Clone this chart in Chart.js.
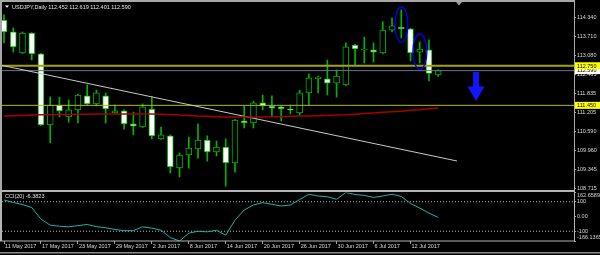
<!DOCTYPE html>
<html>
<head>
<meta charset="utf-8">
<script src="https://cdn.jsdelivr.net/npm/chart.js@4.4.0/dist/chart.umd.min.js"></script>
<style>
    html, body { margin: 0; padding: 0; background: #000; overflow: hidden; }
    #wrap { position: relative; width: 600px; height: 255px; background: #000; }
    #priceChart { position: absolute; left: 0; top: 0; }
    #cciChart { position: absolute; left: 0; top: 190px; }
</style>
</head>
<body>
<div id="wrap">
    <canvas id="priceChart" width="600" height="191"></canvas>
    <canvas id="cciChart" width="600" height="65"></canvas>
</div>
<script>
const symbol = 'USDJPY';
const period = 'Daily';

// daily candles, 11 May 2017 .. 17 Jul 2017
const opens  = [114.25, 113.86, 113.17, 113.82, 113.14, 110.81, 111.46, 111.07, 111.30, 111.76, 111.50, 111.76, 111.20, 111.27, 110.84, 110.74,
                111.33, 110.35, 110.45, 109.40, 109.82, 110.02, 110.31, 109.92, 110.08, 109.56, 110.94, 110.87, 111.53, 111.43, 111.40, 111.33,
                111.20, 111.86, 112.33, 112.32, 112.18, 112.12, 113.43, 113.27, 113.27, 113.17, 113.92, 114.02, 113.96, 113.20, 113.27, 112.452];
const highs  = [114.42, 113.99, 113.86, 113.84, 113.16, 111.73, 111.72, 111.63, 111.82, 112.12, 111.95, 111.86, 111.46, 111.30, 111.23, 111.50,
                111.73, 110.74, 110.48, 109.89, 110.41, 110.84, 110.45, 110.28, 110.35, 110.98, 111.43, 111.59, 111.79, 111.76, 111.43, 111.46,
                111.95, 112.48, 112.41, 112.94, 112.61, 113.50, 113.45, 113.69, 113.50, 114.19, 114.32, 114.58, 113.98, 113.53, 113.60, 112.619];
const lows   = [113.50, 113.20, 113.15, 112.94, 110.78, 110.22, 111.07, 110.90, 110.87, 111.48, 111.43, 110.87, 111.19, 110.67, 110.48, 110.72,
                110.35, 110.33, 109.23, 109.10, 109.39, 109.72, 109.62, 109.79, 108.80, 109.26, 110.71, 110.71, 111.30, 111.07, 110.94, 111.17,
                111.13, 111.46, 111.86, 111.79, 111.72, 112.10, 112.78, 112.84, 112.87, 113.14, 113.86, 113.66, 112.91, 112.84, 112.25, 112.401];
const closes = [113.86, 113.37, 113.82, 113.14, 110.81, 111.46, 111.27, 111.30, 111.79, 111.50, 111.86, 111.33, 111.27, 110.84, 110.77, 111.40,
                110.45, 110.48, 109.43, 109.82, 110.05, 110.31, 109.92, 110.08, 109.56, 110.97, 110.87, 111.53, 111.43, 111.36, 111.33, 111.30,
                111.86, 112.35, 112.37, 112.18, 112.41, 113.37, 113.30, 113.30, 113.20, 113.92, 114.06, 113.96, 113.17, 113.30, 112.50, 112.590];

// red moving average
const maValues = [111.10, 111.11, 111.12, 111.13, 111.14, 111.14, 111.15, 111.15, 111.16, 111.16, 111.17, 111.17, 111.17, 111.17, 111.17, 111.17,
                  111.17, 111.16, 111.15, 111.13, 111.12, 111.10, 111.09, 111.08, 111.07, 111.07, 111.07, 111.07, 111.07, 111.08, 111.08, 111.09,
                  111.10, 111.10, 111.11, 111.12, 111.13, 111.14, 111.16, 111.18, 111.20, 111.22, 111.24, 111.26, 111.29, 111.31, 111.34, 111.36];

// CCI(20)
const cciValues = [112, 95, 81, 61, -18, -59, -66, -70, -62, -54, -69, -76, -88, -96, -96, -70,
                   -79, -93, -143, -166.1365, -113, -100, -104, -93, -127, -25, 44, 78, 94, 83, 71, 78,
                   115, 151, 139, 134, 117, 162.6589, 149, 143, 129, 139, 151, 136, 88, 57, 23, -6.3823];
const cciLevels = [100, -100];

// drawn objects
const levelLines = [112.750, 111.450];
const trendLine = [{x: -0.43, y: 112.775}, {x: 49.03, y: 109.624}];
const ellipses = [{i: 43.02, hi: 114.678, lo: 113.530, w: 0.70}, {i: 45.02, hi: 113.792, lo: 112.643, w: 0.76}];
const arrowMark = {i: 51.1, from: 112.545, to: 111.59};
const shiftMark = 49.25;

// axes
const priceTicks = [108.715, 109.345, 109.960, 110.590, 111.205, 111.835, 112.465, 113.080, 113.710, 114.340];
const priceMin = 108.672, priceMax = 114.777;
const cciTickValues = [-166.1365, -100, 0, 100, 162.6589];
const cciTickLabels = ['-166.1365', '-100', '0.00', '100', '162.6589'];
const dateLabels = ['11 May 2017', '17 May 2017', '23 May 2017', '29 May 2017', '2 Jun 2017', '8 Jun 2017',
                    '14 Jun 2017', '20 Jun 2017', '26 Jun 2017', '30 Jun 2017', '6 Jul 2017', '12 Jul 2017'];
const dateStep = 4;
const xMin = -0.22, xMax = 61.7;

const GREEN = '#00b400';
const TEXT = '#d8d8d8';
const FONT = 'Liberation Sans';
const FS = 5.5;

Chart.defaults.font.family = FONT;
Chart.defaults.animation = false;

const last = closes.length - 1;
const bid = closes[last];

function hLine(v) {
    return [{x: xMin, y: v}, {x: xMax, y: v}];
}

function fixRightAxis(scale) {
    scale.width = 26;
    scale.paddingTop = 0;
    scale.paddingBottom = 0;
}

// top/bottom labels of the indicator window sit inside it, like the terminal does
function cciLabel(v) {
    const k = cciTickValues.indexOf(v);
    if (k === cciTickValues.length - 1) return ['', cciTickLabels[k]];
    if (k === 0) return [cciTickLabels[k], ''];
    return cciTickLabels[k];
}

const priceDecor = {
    id: 'priceDecor',
    afterDraw(chart) {
        const ctx = chart.ctx;
        const xs = chart.scales.x, ys = chart.scales.y;
        ctx.save();

        // ellipses
        ctx.strokeStyle = '#0000ff';
        ctx.lineWidth = 1.3;
        ellipses.forEach(e => {
            const cx = xs.getPixelForValue(e.i);
            const rx = xs.getPixelForValue(e.i + e.w) - cx;
            const top = ys.getPixelForValue(e.hi), bottom = ys.getPixelForValue(e.lo);
            ctx.beginPath();
            ctx.ellipse(cx, (top + bottom) / 2, rx, (bottom - top) / 2, 0, 0, Math.PI * 2);
            ctx.stroke();
        });

        // arrow
        const ax = xs.getPixelForValue(arrowMark.i);
        const ay1 = ys.getPixelForValue(arrowMark.from);
        const ay2 = ys.getPixelForValue(arrowMark.to);
        const headH = (ay2 - ay1) * 0.5;
        ctx.fillStyle = '#1414ff';
        ctx.beginPath();
        ctx.moveTo(ax - 3, ay1);
        ctx.lineTo(ax + 3, ay1);
        ctx.lineTo(ax + 3, ay2 - headH);
        ctx.lineTo(ax + 8.5, ay2 - headH);
        ctx.lineTo(ax, ay2);
        ctx.lineTo(ax - 8.5, ay2 - headH);
        ctx.lineTo(ax - 3, ay2 - headH);
        ctx.closePath();
        ctx.fill();

        // frame
        ctx.fillStyle = '#a8a8a8';
        ctx.fillRect(0, 0, 575, 2);
        ctx.fillRect(0, 0, 2, 191);
        ctx.fillRect(574, 0, 1, 191);

        // chart shift marker
        const sx = xs.getPixelForValue(shiftMark);
        ctx.fillStyle = '#9a9a9a';
        ctx.beginPath();
        ctx.moveTo(sx - 3, 2);
        ctx.lineTo(sx + 3, 2);
        ctx.lineTo(sx, 5.5);
        ctx.closePath();
        ctx.fill();

        // price labels for levels and bid
        ctx.font = FS + 'px ' + FONT;
        ctx.textBaseline = 'middle';
        const tags = [{v: bid, bg: '#ffffff'}].concat(levelLines.map(v => ({v: v, bg: '#ffff00'})));
        tags.forEach(t => {
            const y = ys.getPixelForValue(t.v);
            ctx.fillStyle = t.bg;
            ctx.fillRect(575, y - 3.5, 25, 7);
            ctx.fillStyle = '#000';
            ctx.fillText(t.v.toFixed(3), 577, y + 0.3);
        });

        // title
        ctx.fillStyle = '#ffffff';
        ctx.beginPath();
        ctx.moveTo(5, 5.5);
        ctx.lineTo(9, 5.5);
        ctx.lineTo(7, 7.8);
        ctx.closePath();
        ctx.fill();
        ctx.fillStyle = '#e6e6e6';
        const title = symbol + ',' + period + ' ' +
            [opens[last], highs[last], lows[last], closes[last]].map(v => v.toFixed(3)).join(' ');
        ctx.fillText(title, 12, 7);
        ctx.restore();
    }
};

new Chart(document.getElementById('priceChart'), {
    type: 'bar',
    data: {
        datasets: [
            {
                label: 'body',
                data: opens.map((o, i) => ({x: i, y: [o, closes[i]]})),
                backgroundColor: opens.map((o, i) => closes[i] > o ? '#000000' : '#ffffff'),
                borderColor: GREEN,
                borderWidth: 1,
                borderSkipped: false,
                barThickness: 6,
                grouped: false,
                order: 1
            },
            {
                label: 'wick',
                data: lows.map((l, i) => ({x: i, y: [l, highs[i]]})),
                backgroundColor: GREEN,
                barThickness: 1,
                grouped: false,
                order: 2
            },
            {
                type: 'line', label: 'ma',
                data: maValues.map((v, i) => ({x: i, y: v})),
                borderColor: '#a80000', borderWidth: 1.5, pointRadius: 0, order: 0
            },
            {
                type: 'line', label: 'trend',
                data: trendLine,
                borderColor: '#c8c8c8', borderWidth: 1, pointRadius: 0, order: 0
            },
            {
                type: 'line', label: 'level1',
                data: hLine(levelLines[0]),
                borderColor: '#a4a400', borderWidth: 2, pointRadius: 0, order: 0
            },
            {
                type: 'line', label: 'level2',
                data: hLine(levelLines[1]),
                borderColor: '#b8b800', borderWidth: 1, pointRadius: 0, order: 0
            },
            {
                type: 'line', label: 'bid',
                data: hLine(bid),
                borderColor: '#6c7484', borderWidth: 1, pointRadius: 0, order: 0
            }
        ]
    },
    options: {
        responsive: false,
        maintainAspectRatio: false,
        layout: { padding: { left: 2, top: 4, right: 0, bottom: 1 } },
        plugins: { legend: { display: false }, tooltip: { enabled: false } },
        scales: {
            x: {
                type: 'linear', min: xMin, max: xMax, offset: false,
                display: false,
                grid: { offset: false }
            },
            y: {
                position: 'right',
                min: priceMin, max: priceMax,
                afterBuildTicks: s => { s.ticks = priceTicks.map(v => ({value: v})); },
                afterFit: fixRightAxis,
                border: { display: false },
                grid: { drawOnChartArea: false, tickLength: 2, color: '#a0a0a0' },
                ticks: {
                    autoSkip: false, padding: 1, color: TEXT,
                    font: { size: FS },
                    callback: v => v.toFixed(3)
                }
            }
        }
    },
    plugins: [priceDecor]
});

const cciDecor = {
    id: 'cciDecor',
    afterDraw(chart) {
        const ctx = chart.ctx;
        ctx.save();
        ctx.fillStyle = '#b4b4b4';
        ctx.fillRect(0, 0, 575, 2);
        ctx.fillRect(0, 50.5, 575, 1);
        ctx.fillRect(0, 0, 2, 51);
        ctx.fillRect(574, 0, 1, 51);
        ctx.fillStyle = '#8c8c8c';
        ctx.fillRect(0, 62, 600, 1.5);
        ctx.font = FS + 'px ' + FONT;
        ctx.textBaseline = 'middle';
        ctx.fillStyle = '#e0e0e0';
        ctx.fillText('CCI(20) ' + cciValues[cciValues.length - 1].toFixed(4), 5, 6.5);
        ctx.restore();
    }
};

new Chart(document.getElementById('cciChart'), {
    type: 'line',
    data: {
        datasets: [
            {
                label: 'CCI(20)',
                data: cciValues.map((v, i) => ({x: i, y: v})),
                borderColor: '#20b2aa', borderWidth: 1, pointRadius: 0, order: 0
            }
        ].concat(cciLevels.map(v => ({
            label: 'level ' + v,
            data: hLine(v),
            borderColor: '#b8b8b8', borderWidth: 1, borderDash: [1, 2], pointRadius: 0, order: 1
        })))
    },
    options: {
        responsive: false,
        maintainAspectRatio: false,
        layout: { padding: { left: 2, top: 2.5, right: 0, bottom: 0 } },
        plugins: { legend: { display: false }, tooltip: { enabled: false } },
        scales: {
            x: {
                type: 'linear', min: xMin, max: xMax, offset: false,
                afterBuildTicks: s => { s.ticks = dateLabels.map((d, k) => ({value: k * dateStep})); },
                afterFit: s => { s.height = 14; s.paddingLeft = 0; s.paddingRight = 0; },
                border: { display: false },
                grid: { drawOnChartArea: false, tickLength: 3, color: '#a0a0a0' },
                ticks: {
                    autoSkip: false, maxRotation: 0, align: 'start', padding: -1, labelOffset: 1,
                    color: TEXT, font: { size: FS },
                    callback: v => dateLabels[Math.round(v / dateStep)]
                }
            },
            y: {
                position: 'right',
                min: Math.min(...cciValues), max: Math.max(...cciValues),
                afterBuildTicks: s => { s.ticks = cciTickValues.map(v => ({value: v})); },
                afterFit: fixRightAxis,
                border: { display: false },
                grid: { drawOnChartArea: false, tickLength: 2, color: '#a0a0a0' },
                ticks: {
                    autoSkip: false, padding: 1, color: TEXT,
                    font: { size: FS, lineHeight: 1.1 },
                    callback: cciLabel
                }
            }
        }
    },
    plugins: [cciDecor]
});
</script>
</body>
</html>
